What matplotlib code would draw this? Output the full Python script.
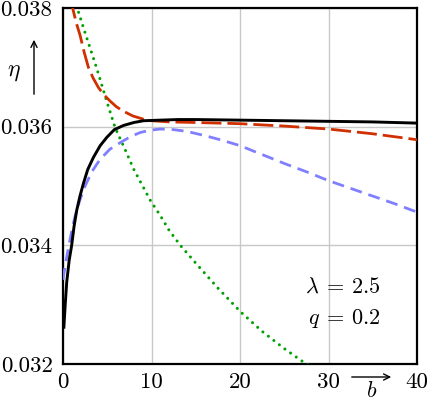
import matplotlib
matplotlib.use("Agg")
import matplotlib.pyplot as plt
from matplotlib.patches import FancyArrowPatch

plt.rcParams['font.family'] = 'serif'
plt.rcParams['font.serif'] = ['cmr10']
plt.rcParams['mathtext.fontset'] = 'cm'
plt.rcParams['axes.formatter.use_mathtext'] = True
plt.rcParams['lines.scale_dashes'] = False

# black solid
x_black = [0.1, 0.25, 0.42, 0.7, 0.98, 1.25, 1.55, 1.9, 2.3, 2.8, 3.43, 4.2, 4.95, 5.8, 6.83, 8.0, 9.1, 11, 13, 15, 20, 25, 30, 35, 40]
y_black = [0.03262, 0.03300, 0.03338, 0.03375, 0.03400, 0.03432, 0.03459, 0.03482, 0.03504, 0.03528, 0.03548, 0.03568, 0.03582, 0.03595, 0.03602, 0.03607, 0.03610, 0.03611, 0.03612, 0.03612, 0.03611, 0.03610, 0.03609, 0.03608, 0.03606]

# red long dashed
x_red = [0.8, 1.17, 1.5, 1.93, 2.4, 2.87, 3.4, 4.0, 4.6, 5.33, 6.0, 6.7, 7.9, 9.0, 10, 12, 15, 20, 25, 30, 35, 40]
y_red = [0.03818, 0.03795, 0.03775, 0.03754, 0.03725, 0.03700, 0.03682, 0.03666, 0.03654, 0.03643, 0.03634, 0.03627, 0.03618, 0.03613, 0.03610, 0.03608, 0.03607, 0.03605, 0.03601, 0.03596, 0.03588, 0.03578]

# blue dashed
x_blue = [0, 0.23, 0.6, 1.0, 1.36, 1.9, 2.49, 3.3, 4.19, 5.3, 6.46, 7.6, 8.7, 9.8, 11, 12.5, 14, 16, 18, 20, 22.5, 25, 27.5, 30, 32.5, 35, 37.5, 40]
y_blue = [0.03342, 0.03364, 0.03395, 0.03425, 0.03449, 0.03476, 0.03500, 0.03525, 0.03545, 0.03562, 0.03573, 0.03583, 0.03590, 0.03594, 0.03596, 0.03595, 0.03592, 0.03585, 0.03577, 0.03568, 0.03553, 0.03538, 0.03524, 0.03509, 0.03496, 0.03483, 0.03470, 0.03456]

# green dotted
x_green = [1.2, 1.6, 2.5, 3.8, 5.0, 5.9, 7.0, 8.0, 9.0, 9.86, 11, 12, 13.26, 15, 17.5, 20.06, 22.5, 25, 26.9, 28]
y_green = [0.03820, 0.03800, 0.03758, 0.03699, 0.03640, 0.03598, 0.03562, 0.03528, 0.03500, 0.03476, 0.03450, 0.03425, 0.03400, 0.03370, 0.03328, 0.03288, 0.03255, 0.03226, 0.03206, 0.03195]

x_ticks = [0, 10, 20, 30, 40]
y_ticks = [0.032, 0.034, 0.036, 0.038]
y_tick_labels = ['0.032', '0.034', '0.036', '0.038']

fig = plt.figure(figsize=(4.3, 4.0), dpi=100)
ax = fig.add_axes([63/430, 36/400, (417-63)/430, (364-8)/400])

ax.plot(x_green, y_green, color='#00a000', lw=2.2, dashes=(0.01, 5.0), dash_capstyle='round', zorder=3)
ax.plot(x_blue, y_blue, color='#8080ff', lw=2.0, dashes=(8.6, 5.0), zorder=3)
ax.plot(x_red, y_red, color='#d03000', lw=2.0, dashes=(14.4, 4.3), zorder=4)
ax.plot(x_black, y_black, color='black', lw=2.1, zorder=5, solid_joinstyle='round')

ax.set_xlim(0, 40)
ax.set_ylim(0.032, 0.038)
ax.set_xticks(x_ticks)
ax.set_xticklabels([str(v) for v in x_ticks])
ax.set_yticks(y_ticks)
ax.set_yticklabels(y_tick_labels)
ax.tick_params(length=0, labelsize=16.5)
ax.tick_params(axis='y', pad=7.5)
ax.tick_params(axis='x', pad=6)
ax.grid(True, color='#c8c8c8', lw=1.0, zorder=0)
for s in ax.spines.values():
    s.set_linewidth(1.6)

fig.text(381/430, 1 - 287/400, r'$\lambda \:=\: 2.5$', fontsize=16, ha='right', va='center')
fig.text(381/430, 1 - 318/400, r'$q \:=\: 0.2$', fontsize=16, ha='right', va='center')

# eta label with arrow
fig.text(14/430, 1 - 72/400, r'$\eta$', fontsize=17, ha='center', va='center')
fig.add_artist(FancyArrowPatch((34/430, 1 - 97/400), (34/430, 1 - 37/400),
               transform=fig.transFigure, arrowstyle='->', mutation_scale=11, lw=1.0, color='black'))
# b label with arrow
fig.text(372/430, 1 - 397/400, r'$b$', fontsize=16, ha='center', va='baseline')
fig.add_artist(FancyArrowPatch((349/430, 1 - 377/400), (394/430, 1 - 377/400),
               transform=fig.transFigure, arrowstyle='->', mutation_scale=11, lw=1.0, color='black'))

fig.savefig('out.png', dpi=100)
